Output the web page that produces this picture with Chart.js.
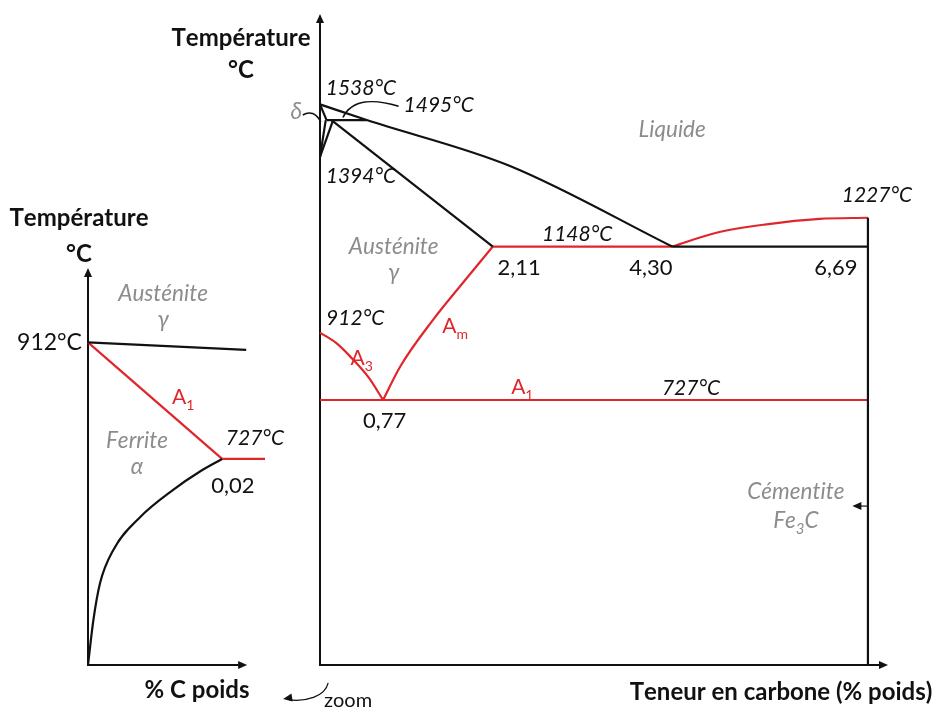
<!DOCTYPE html>
<html>
<head>
<meta charset="utf-8">
<script src="https://cdn.jsdelivr.net/npm/chart.js@4.4.0/dist/chart.umd.min.js"></script>
<style>
  html, body { margin: 0; padding: 0; background: #fff; }
  #wrap { position: relative; width: 939px; height: 708px; overflow: hidden; }
  canvas { position: absolute; top: 0; left: 0; }
</style>
</head>
<body>
<div id="wrap">
  <canvas id="main" width="939" height="708"></canvas>
  <canvas id="zoom" width="290" height="708"></canvas>
</div>
<script>
// Fe-C diagram, points are [% carbone, °C]
const liquidus = [[0, 1538], [0.57, 1495], [2.32, 1369], [4.30, 1148]];
const deltaSolidus = [[0, 1538], [0.08, 1495]];
const deltaLeft = [[0.07, 1495], [0, 1394]];
const deltaRight = [[0.16, 1495], [0, 1394]];
const peritectic = [[0.08, 1495], [0.57, 1495]];
const solidus = [[0.14, 1495], [2.11, 1148]];
const eutecticRed = [[2.11, 1148], [4.30, 1148]];
const eutecticBlack = [[4.30, 1148], [6.69, 1148]];
const liquidusFe3C = [[4.30, 1148], [4.84, 1186], [5.45, 1209], [6.10, 1224], [6.69, 1227]];
const cementite = [[6.69, 1227], [6.69, 0]];
const a3 = [[0, 912], [0.2, 883], [0.37, 846], [0.6, 787], [0.77, 727]];
const acm = [[0.77, 727], [0.98, 819], [1.38, 947], [1.71, 1039], [2.11, 1148]];
const a1 = [[0, 727], [6.69, 727]];

// zoom on the ferrite corner
const zGammaTop = [[0, 912], [0.0236, 900]];
const zA3 = [[0, 912], [0.02, 727]];
const zA1 = [[0.02, 727], [0.0264, 727]];
const zSolvus = [[0, 400], [0.0008, 471], [0.0018, 530], [0.0038, 583], [0.0078, 635], [0.0127, 678], [0.0167, 707], [0.02, 727]];

const RED = '#e0262b';
const BLACK = '#111111';
const GREY = '#8c8c8c';

const F_IT = 'italic 21px Lato';
const F_GREY = 'italic 22.5px Lato';
const F_NUM = '22px Lato';
const F_A = '21px Lato';
const F_TITLE = 'bold 24px Lato';

// labels: [text, x, y, font, colour]  ("_" = next char as subscript)
const mainLabels = [
  ['1538°C', 0.50, 1583, F_IT, BLACK],
  ['1495°C', 1.45, 1536, F_IT, BLACK],
  ['δ', -0.29, 1517, F_GREY, GREY],
  ['1394°C', 0.50, 1342, F_IT, BLACK],
  ['Liquide', 4.30, 1468, F_GREY, GREY],
  ['1148°C', 3.14, 1182, F_IT, BLACK],
  ['1227°C', 6.80, 1289, F_IT, BLACK],
  ['Austénite', 0.90, 1147, F_GREY, GREY],
  ['γ', 0.90, 1075, F_GREY, GREY],
  ['2,11', 2.43, 1089, F_NUM, BLACK],
  ['4,30', 4.04, 1089, F_NUM, BLACK],
  ['6,69', 6.30, 1089, F_NUM, BLACK],
  ['912°C', 0.43, 952, F_IT, BLACK],
  ['A_3', 0.51, 842, F_A, RED],
  ['A_m', 1.65, 930, F_A, RED],
  ['A_1', 2.47, 762, F_A, RED],
  ['727°C', 4.53, 760, F_IT, BLACK],
  ['0,77', 0.79, 669, F_NUM, BLACK],
  ['Cémentite', 5.81, 475, F_GREY, GREY],
  ['Fe_3C', 5.81, 395, F_GREY, GREY],
];
const zoomLabels = [
  ['Austénite', 0.0112, 989, F_GREY, GREY],
  ['γ', 0.0112, 948, F_GREY, GREY],
  ['A_1', 0.0142, 825, F_A, RED],
  ['Ferrite', 0.0073, 756, F_GREY, GREY],
  ['α', 0.0073, 714, F_GREY, GREY],
  ['727°C', 0.0249, 760, F_IT, BLACK],
  ['0,02', 0.0216, 684, F_NUM, BLACK],
];

function drawText(ctx, str, cx, cy, font, colour, align) {
  const subFont = font.replace(/([\d.]+)px/, (m, s) => Math.round(s * 0.68) + 'px');
  const parts = [];
  for (let i = 0; i < str.length; i++) {
    if (str[i] === '_') { parts.push([str[i + 1], true]); i++; }
    else parts.push([str[i], false]);
  }
  let w = 0;
  parts.forEach(p => { ctx.font = p[1] ? subFont : font; w += ctx.measureText(p[0]).width; });
  let x = align === 'right' ? cx - w : cx - w / 2;
  ctx.fillStyle = colour;
  ctx.textBaseline = 'middle';
  ctx.textAlign = 'left';
  parts.forEach(p => {
    ctx.font = p[1] ? subFont : font;
    ctx.fillText(p[0], x, p[1] ? cy + 8 : cy);
    x += ctx.measureText(p[0]).width;
  });
}

function arrowHead(ctx, x, y, angle) {
  ctx.save();
  ctx.translate(x, y);
  ctx.rotate(angle);
  ctx.beginPath();
  ctx.moveTo(0, 0);
  ctx.lineTo(-9, -4);
  ctx.lineTo(-9, 4);
  ctx.closePath();
  ctx.fill();
  ctx.restore();
}

function axes(chart, xEnd, yEnd) {
  const { ctx, scales: { x, y } } = chart;
  const x0 = x.getPixelForValue(0), y0 = y.getPixelForValue(y.min);
  const xe = x.getPixelForValue(xEnd), ye = y.getPixelForValue(yEnd);
  ctx.save();
  ctx.strokeStyle = BLACK;
  ctx.fillStyle = BLACK;
  ctx.lineWidth = 2;
  ctx.beginPath();
  ctx.moveTo(x0, ye + 6);
  ctx.lineTo(x0, y0);
  ctx.lineTo(xe - 6, y0);
  ctx.stroke();
  arrowHead(ctx, x0, ye, -Math.PI / 2);
  arrowHead(ctx, xe, y0, 0);
  ctx.restore();
}

const line = (pts, colour, curved) => ({
  data: pts.map(([x, y]) => ({ x, y })),
  showLine: true,
  borderColor: colour,
  borderWidth: 2.2,
  pointRadius: 0,
  fill: false,
  clip: false,
  cubicInterpolationMode: curved ? 'monotone' : 'default',
});

const baseOptions = (xMax, yMin, yMax, padding) => ({
  responsive: false,
  animation: false,
  events: [],
  layout: { padding },
  plugins: { legend: { display: false }, tooltip: { enabled: false } },
  scales: {
    x: { type: 'linear', min: 0, max: xMax, display: false },
    y: { type: 'linear', min: yMin, max: yMax, display: false },
  },
});

const mainDecor = {
  id: 'mainDecor',
  beforeDatasetsDraw(chart) {
    axes(chart, 6.935, 1786);
  },
  afterDatasetsDraw(chart) {
    const { ctx, scales: { x, y } } = chart;
    const P = (a, b) => [x.getPixelForValue(a), y.getPixelForValue(b)];
    ctx.save();
    ctx.strokeStyle = BLACK;
    ctx.fillStyle = BLACK;
    ctx.lineWidth = 1.6;
    // leader for 1495°C
    let s = P(0.96, 1533), c1 = P(0.67, 1553), c2 = P(0.39, 1553), e = P(0.28, 1502);
    ctx.beginPath(); ctx.moveTo(...s); ctx.bezierCurveTo(...c1, ...c2, ...e); ctx.stroke();
    // delta pointer
    s = P(-0.21, 1509); c1 = P(-0.08, 1526); e = P(0.01, 1490);
    ctx.beginPath(); ctx.moveTo(...s); ctx.quadraticCurveTo(...c1, ...e); ctx.stroke();
    // cementite pointer
    s = P(6.69, 436); e = P(6.50, 436);
    ctx.lineWidth = 1.2;
    ctx.beginPath(); ctx.moveTo(...s); ctx.lineTo(e[0] + 5, e[1]); ctx.stroke();
    arrowHead(ctx, e[0], e[1], Math.PI);
    // zoom pointer
    s = P(0.1, -49); c1 = P(0.06, -88); c2 = P(-0.18, -101); e = P(-0.45, -93);
    ctx.beginPath(); ctx.moveTo(...s); ctx.bezierCurveTo(...c1, ...c2, e[0] + 6, e[1] + 1); ctx.stroke();
    arrowHead(ctx, e[0], e[1], Math.PI - 0.15);
    mainLabels.forEach(([t, a, b, f, col]) => drawText(ctx, t, ...P(a, b), f, col));
    drawText(ctx, 'Température', 241, 38, F_TITLE, BLACK);
    drawText(ctx, '°C', 241, 70, F_TITLE, BLACK);
    drawText(ctx, 'Teneur en carbone (% poids)', 781, 692, F_TITLE, BLACK);
    drawText(ctx, 'zoom', 348, 701, '20px Lato', BLACK);
    ctx.restore();
  },
};

const zoomDecor = {
  id: 'zoomDecor',
  beforeDatasetsDraw(chart) {
    axes(chart, 0.02373, 1030);
  },
  afterDatasetsDraw(chart) {
    const { ctx, scales: { x, y } } = chart;
    const P = (a, b) => [x.getPixelForValue(a), y.getPixelForValue(b)];
    ctx.save();
    zoomLabels.forEach(([t, a, b, f, col]) => drawText(ctx, t, ...P(a, b), f, col));
    drawText(ctx, '912°C', ...P(-0.0009, 912), '23px Lato', BLACK, 'right');
    drawText(ctx, 'Température', 79, 218, F_TITLE, BLACK);
    drawText(ctx, '°C', 79, 254, F_TITLE, BLACK);
    drawText(ctx, '% C poids', 197, 690, F_TITLE, BLACK);
    ctx.restore();
  },
};

new Chart(document.getElementById('main'), {
  type: 'scatter',
  data: {
    datasets: [
      line(liquidus, BLACK, true),
      line(deltaSolidus, BLACK),
      line(deltaLeft, BLACK),
      line(deltaRight, BLACK),
      line(peritectic, BLACK),
      line(solidus, BLACK),
      line(eutecticBlack, BLACK),
      line(cementite, BLACK),
      line(eutecticRed, RED),
      line(liquidusFe3C, RED, true),
      line(a3, RED, true),
      line(acm, RED, true),
      line(a1, RED),
    ],
  },
  options: baseOptions(6.935, 0, 1786, { left: 320, right: 51, top: 14, bottom: 43 }),
  plugins: [mainDecor],
});

new Chart(document.getElementById('zoom'), {
  type: 'scatter',
  data: {
    datasets: [
      line(zGammaTop, BLACK),
      line(zSolvus, BLACK, true),
      line(zA3, RED),
      line(zA1, RED),
    ],
  },
  options: baseOptions(0.0264, 400, 1030, { left: 88, right: 25, top: 268, bottom: 43 }),
  plugins: [zoomDecor],
});
</script>
</body>
</html>
